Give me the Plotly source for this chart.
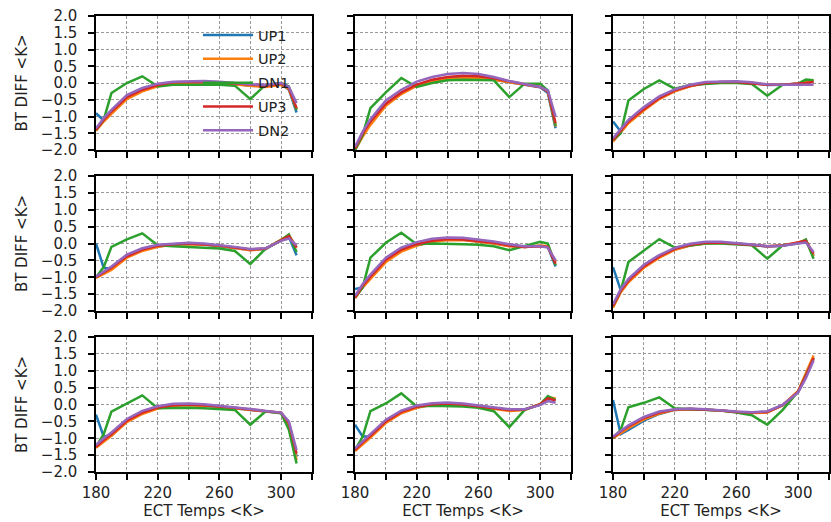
import plotly.graph_objects as go

# ECT temperature grid shared by every panel
temps = [180, 185, 190, 200, 210, 220, 230, 240, 250, 260, 270, 280, 290, 300, 305, 310]

# Brightness-temperature differences, one list per panel (row-major, 3x3)
up1 = [
    [-0.90, -1.12, -0.90, -0.46, -0.23, -0.08, -0.01, 0.02, 0.02, 0.00, -0.03, -0.08, -0.10, -0.03, -0.20, -0.88],
    [-2.00, -1.55, -1.20, -0.65, -0.32, -0.07, 0.07, 0.13, 0.15, 0.15, 0.10, 0.02, -0.05, -0.13, -0.30, -1.35],
    [-1.15, -1.45, -1.18, -0.80, -0.47, -0.24, -0.09, 0.00, 0.03, 0.03, 0.00, -0.06, -0.05, -0.02, 0.02, 0.05],
    [0.00, -0.72, -0.75, -0.40, -0.20, -0.09, -0.03, -0.01, -0.03, -0.07, -0.13, -0.19, -0.16, 0.10, 0.20, -0.35],
    [-1.35, -1.30, -1.02, -0.52, -0.22, -0.05, 0.06, 0.11, 0.11, 0.07, 0.01, -0.07, -0.10, -0.07, -0.10, -0.68],
    [-0.70, -1.38, -1.12, -0.70, -0.40, -0.18, -0.05, 0.01, 0.03, 0.00, -0.04, -0.09, -0.07, 0.02, 0.08, -0.35],
    [-0.30, -0.95, -0.92, -0.50, -0.26, -0.10, -0.03, -0.01, -0.03, -0.06, -0.11, -0.16, -0.21, -0.25, -0.58, -1.55],
    [-0.60, -0.95, -0.95, -0.52, -0.25, -0.09, 0.00, 0.02, 0.00, -0.05, -0.11, -0.17, -0.15, 0.00, 0.20, 0.15],
    [0.13, -0.88, -0.75, -0.48, -0.28, -0.16, -0.13, -0.15, -0.18, -0.22, -0.24, -0.22, -0.02, 0.38, 0.85, 1.40],
]
up2 = [
    [-1.42, -1.15, -0.92, -0.48, -0.25, -0.10, -0.02, 0.01, 0.02, 0.00, -0.04, -0.10, -0.12, -0.05, -0.18, -0.80],
    [-2.00, -1.60, -1.25, -0.68, -0.33, -0.08, 0.06, 0.12, 0.14, 0.14, 0.10, 0.02, -0.05, -0.12, -0.25, -1.30],
    [-1.75, -1.48, -1.20, -0.82, -0.48, -0.25, -0.10, -0.01, 0.02, 0.02, 0.00, -0.05, -0.05, -0.02, 0.03, 0.08],
    [-1.02, -0.90, -0.78, -0.42, -0.22, -0.10, -0.04, -0.02, -0.03, -0.07, -0.14, -0.20, -0.16, 0.12, 0.25, -0.12],
    [-1.62, -1.30, -1.05, -0.55, -0.24, -0.06, 0.05, 0.10, 0.10, 0.06, 0.00, -0.08, -0.10, -0.06, -0.08, -0.55],
    [-1.90, -1.45, -1.15, -0.72, -0.42, -0.19, -0.06, 0.00, 0.02, 0.00, -0.04, -0.08, -0.06, 0.03, 0.10, -0.38],
    [-1.28, -1.10, -0.93, -0.52, -0.28, -0.12, -0.04, -0.02, -0.03, -0.06, -0.11, -0.17, -0.21, -0.25, -0.60, -1.65],
    [-1.38, -1.18, -0.98, -0.55, -0.26, -0.10, -0.01, 0.01, -0.01, -0.06, -0.12, -0.19, -0.16, 0.02, 0.22, 0.18],
    [-1.00, -0.85, -0.70, -0.44, -0.27, -0.16, -0.13, -0.15, -0.18, -0.22, -0.25, -0.24, -0.02, 0.40, 0.90, 1.45],
]
dn1 = [
    [-1.40, -1.10, -0.30, 0.00, 0.20, -0.10, -0.05, -0.05, -0.05, -0.05, -0.08, -0.48, -0.05, 0.00, -0.10, -0.80],
    [-2.00, -1.55, -0.75, -0.28, 0.15, -0.12, 0.00, 0.08, 0.10, 0.10, 0.08, -0.42, -0.02, -0.02, -0.22, -1.28],
    [-1.70, -1.50, -0.52, -0.18, 0.08, -0.17, -0.06, -0.02, 0.00, 0.00, -0.03, -0.38, -0.05, -0.02, 0.10, 0.08],
    [-1.00, -0.70, -0.10, 0.12, 0.30, -0.05, -0.08, -0.10, -0.12, -0.15, -0.22, -0.61, -0.15, 0.10, 0.27, -0.25],
    [-1.60, -1.30, -0.42, 0.02, 0.32, -0.02, 0.00, 0.00, -0.02, -0.04, -0.08, -0.20, -0.08, 0.05, 0.00, -0.65],
    [-1.85, -1.40, -0.55, -0.20, 0.13, -0.12, -0.05, 0.00, 0.00, -0.02, -0.05, -0.45, -0.05, 0.00, 0.12, -0.45],
    [-1.25, -0.88, -0.21, 0.03, 0.27, -0.11, -0.10, -0.10, -0.11, -0.13, -0.16, -0.60, -0.20, -0.26, -0.75, -1.75],
    [-1.35, -0.95, -0.20, 0.03, 0.33, -0.06, -0.04, -0.04, -0.06, -0.10, -0.20, -0.67, -0.16, 0.00, 0.25, 0.13],
    [-1.00, -0.75, -0.08, 0.05, 0.21, -0.11, -0.14, -0.15, -0.18, -0.24, -0.32, -0.60, -0.16, 0.38, 0.85, 1.35],
]
up3 = [
    [-1.40, -1.10, -0.85, -0.42, -0.20, -0.06, 0.02, 0.04, 0.04, 0.02, -0.02, -0.06, -0.08, -0.02, -0.15, -0.75],
    [-1.95, -1.50, -1.15, -0.62, -0.28, -0.05, 0.10, 0.18, 0.22, 0.20, 0.14, 0.04, -0.04, -0.12, -0.25, -1.20],
    [-1.70, -1.42, -1.15, -0.78, -0.45, -0.22, -0.08, 0.00, 0.03, 0.03, 0.00, -0.05, -0.05, -0.03, 0.00, 0.03],
    [-1.00, -0.85, -0.72, -0.38, -0.18, -0.07, -0.02, 0.00, -0.02, -0.06, -0.12, -0.18, -0.15, 0.10, 0.22, -0.12],
    [-1.60, -1.25, -0.98, -0.48, -0.18, -0.02, 0.08, 0.13, 0.12, 0.08, 0.02, -0.06, -0.10, -0.08, -0.10, -0.60],
    [-1.85, -1.40, -1.10, -0.68, -0.38, -0.16, -0.04, 0.02, 0.03, 0.00, -0.04, -0.08, -0.06, 0.02, 0.08, -0.30],
    [-1.25, -1.05, -0.88, -0.48, -0.24, -0.09, -0.02, 0.00, -0.02, -0.05, -0.10, -0.15, -0.20, -0.24, -0.55, -1.45],
    [-1.35, -1.12, -0.93, -0.50, -0.22, -0.07, 0.01, 0.03, 0.00, -0.05, -0.10, -0.16, -0.15, 0.00, 0.18, 0.12],
    [-0.98, -0.80, -0.65, -0.40, -0.24, -0.15, -0.13, -0.15, -0.18, -0.22, -0.24, -0.22, -0.02, 0.38, 0.85, 1.38],
]
dn2 = [
    [-1.35, -1.05, -0.80, -0.36, -0.15, -0.02, 0.04, 0.06, 0.06, 0.04, 0.00, -0.04, -0.05, 0.00, -0.12, -0.60],
    [-1.90, -1.45, -1.08, -0.52, -0.20, 0.04, 0.18, 0.27, 0.30, 0.27, 0.18, 0.06, -0.03, -0.12, -0.22, -1.00],
    [-1.65, -1.38, -1.10, -0.72, -0.40, -0.19, -0.05, 0.03, 0.05, 0.05, 0.02, -0.04, -0.05, -0.04, -0.05, -0.05],
    [-0.98, -0.82, -0.68, -0.33, -0.14, -0.04, 0.00, 0.02, 0.00, -0.04, -0.10, -0.16, -0.14, 0.08, 0.15, -0.05],
    [-1.55, -1.20, -0.92, -0.42, -0.12, 0.04, 0.14, 0.18, 0.17, 0.12, 0.06, -0.02, -0.08, -0.08, -0.12, -0.50],
    [-1.80, -1.35, -1.05, -0.63, -0.34, -0.13, -0.01, 0.05, 0.05, 0.02, -0.03, -0.08, -0.07, 0.00, 0.03, -0.25],
    [-1.20, -1.00, -0.83, -0.43, -0.19, -0.05, 0.02, 0.03, 0.01, -0.03, -0.08, -0.13, -0.19, -0.24, -0.50, -1.35],
    [-1.30, -1.08, -0.88, -0.45, -0.18, -0.03, 0.04, 0.06, 0.03, -0.02, -0.08, -0.14, -0.14, -0.02, 0.10, 0.05],
    [-0.95, -0.78, -0.62, -0.37, -0.21, -0.14, -0.12, -0.14, -0.18, -0.21, -0.23, -0.20, -0.01, 0.36, 0.78, 1.30],
]

series_names = ["UP1", "UP2", "DN1", "UP3", "DN2"]
series_data = [up1, up2, dn1, up3, dn2]
series_colors = ["#1f77b4", "#ff7f0e", "#2ca02c", "#d62728", "#9467bd"]

x_tickvals = [180, 200, 220, 240, 260, 280, 300, 320]
x_ticktext = ["180", "", "220", "", "260", "", "300", ""]
y_tickvals = [-2.0, -1.5, -1.0, -0.5, 0.0, 0.5, 1.0, 1.5, 2.0]
y_ticktext = ["\u22122.0", "\u22121.5", "\u22121.0", "\u22120.5", "0.0", "0.5", "1.0", "1.5", "2.0"]

FONT = "DejaVu Sans"
TEXT = "#222222"

col_domains = [(96 / 831, 312 / 831), (355 / 831, 571 / 831), (613 / 831, 829 / 831)]
row_domains = [(1 - 150 / 522, 1 - 16 / 522), (1 - 311 / 522, 1 - 176 / 522), (1 - 472 / 522, 1 - 337 / 522)]

fig = go.Figure()

for k in range(9):
    r, c = divmod(k, 3)
    sfx = "" if k == 0 else str(k + 1)
    for name, data, color in zip(series_names, series_data, series_colors):
        fig.add_trace(go.Scatter(
            x=temps, y=data[k], mode="lines", name=name,
            line=dict(color=color, width=2.5),
            showlegend=(k == 0), legendgroup=name,
            xaxis="x" + sfx, yaxis="y" + sfx,
        ))

    axis_common = dict(
        showline=True, mirror=True, linecolor="black", linewidth=1.5,
        ticks="outside", ticklen=6, tickwidth=1.5, tickcolor="black",
        showgrid=True, gridcolor="#9a9a9a", gridwidth=0.8, griddash="3px,2px",
        zeroline=False, automargin=False,
        tickfont=dict(family=FONT, size=15, color=TEXT),
    )
    xa = dict(axis_common, domain=col_domains[c], anchor="y" + sfx,
              range=[180, 320], tickmode="array", tickvals=x_tickvals,
              ticktext=x_ticktext, showticklabels=(r == 2))
    if r == 2:
        xa["title"] = dict(text="ECT Temps <K>", font=dict(family=FONT, size=15, color=TEXT), standoff=4)
    ya = dict(axis_common, domain=row_domains[r], anchor="x" + sfx,
              range=[-2, 2], tickmode="array", tickvals=y_tickvals,
              ticktext=y_ticktext, showticklabels=(c == 0), ticklabelstandoff=8)
    if c == 0:
        ya["title"] = dict(text="BT DIFF <K>", font=dict(family=FONT, size=15, color=TEXT), standoff=10)
    fig.layout["xaxis" + sfx] = xa
    fig.layout["yaxis" + sfx] = ya

fig.update_layout(
    width=831, height=522, autosize=False,
    margin=dict(l=0, r=0, t=0, b=0),
    paper_bgcolor="white", plot_bgcolor="white",
    font=dict(family=FONT, size=14, color=TEXT),
    showlegend=True,
    legend=dict(
        x=198 / 831, y=1 - 19 / 522, xanchor="left", yanchor="top",
        bgcolor="rgba(255,255,255,0)", borderwidth=0,
        font=dict(family=FONT, size=14.5, color=TEXT),
        tracegroupgap=2, itemwidth=50,
    ),
)

fig.write_html("out.html")
